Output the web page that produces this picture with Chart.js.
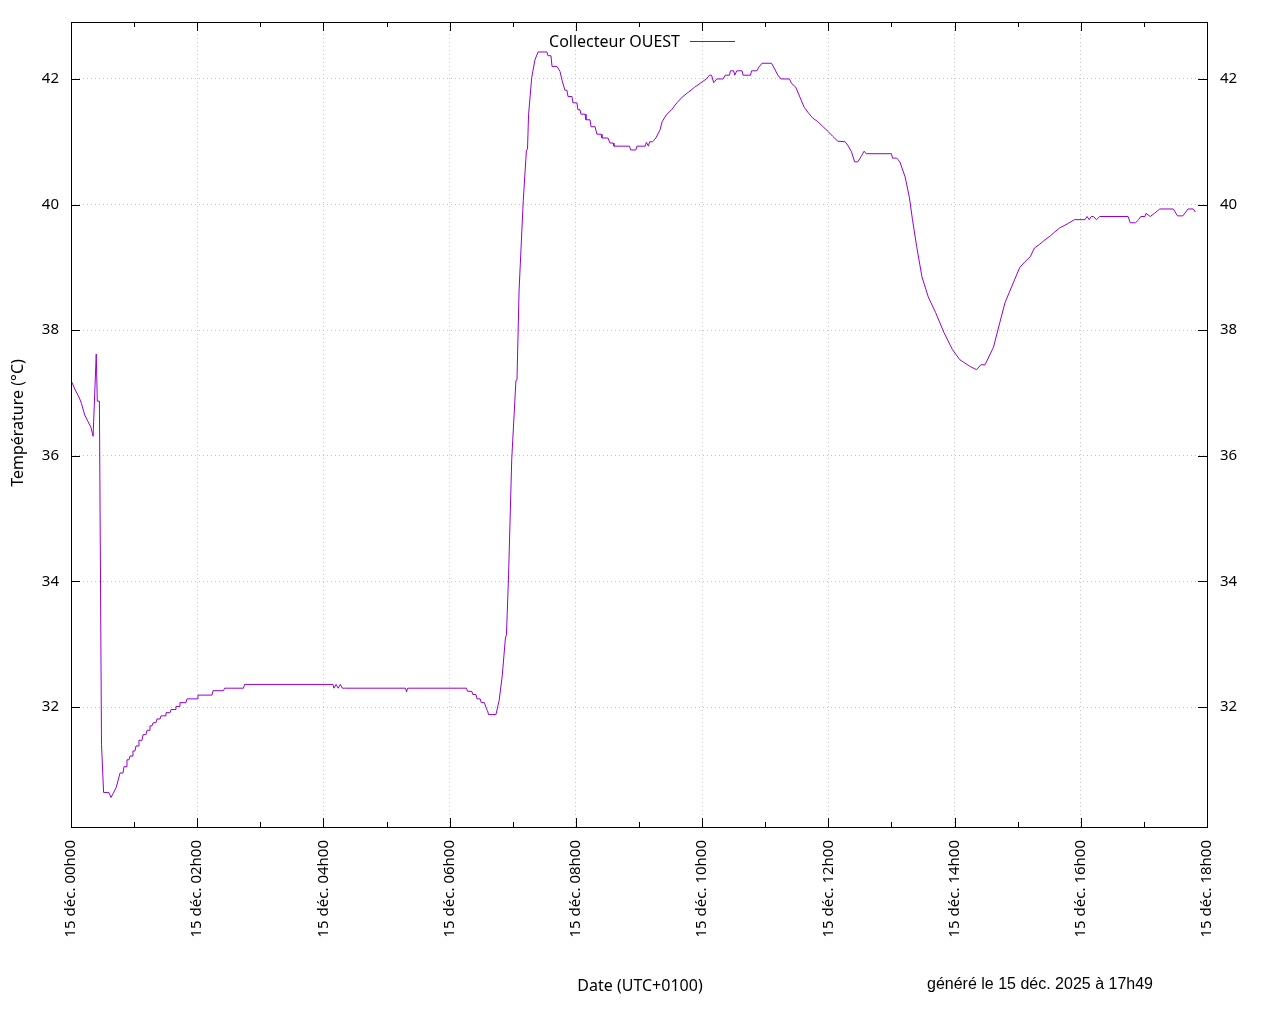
<!DOCTYPE html>
<html>
<head>
<meta charset="utf-8">
<script src="https://cdn.jsdelivr.net/npm/chart.js@4"></script>
<style>
  html, body { margin: 0; padding: 0; background: #fff; }
  #chart { display: block; }
</style>
</head>
<body>
<canvas id="chart" width="1280" height="1024"></canvas>
<script>
// minutes since 00h00 on 15 déc.
const minutes = [
  0, 4, 8, 10, 13, 16, 19, 21, 24, 25, 27, 29, 31, 36, 38, 40, 43,
  46.6, 49.4, 50.4, 52.3, 53.2, 55.1, 56.1, 58, 58.9, 60.8, 61.8, 63.7, 64.6, 67.5, 68.5, 71.3, 72.3, 74.2,
  75.1, 77, 78, 80.8, 81.8, 84.6, 85.6, 89.4, 90.3, 94.1, 95.1, 98.9, 99.8, 102.7, 103.6, 109.3, 110.3, 119.8, 120.7,
  134, 135, 145, 146, 164, 165, 249, 250,
  252, 254, 256, 258, 260, 318, 319, 320, 376, 377, 381, 382, 385, 386, 389, 390, 393, 395, 396, 397,
  404, 407, 410, 413, 414, 416, 419, 423, 424, 426, 430, 433, 434, 435, 438, 441, 444,
  452.5, 453.5, 456.3, 457.3, 462, 464.9, 466.8, 469.6, 471.5, 472.5, 476.3, 477.2, 481, 481.9, 483.9, 484.8,
  488.7, 489.6, 493.4, 494.4, 498.2, 500, 503.9, 504.8, 510.5, 512.4, 515.3, 516.2,
  531, 532, 537, 538, 546, 547, 549,
  550, 553, 556, 560, 562, 566, 571, 576, 581, 587, 593, 598, 604, 607, 609, 611, 614, 620, 622, 626,
  627, 630, 631, 633, 638, 639, 646, 647, 652, 654, 657, 666, 668, 672, 675, 683, 685, 689, 693, 697,
  701, 705, 710, 715, 720, 724, 729, 736, 739, 742, 745, 748, 751, 754, 756, 780, 781, 785, 788, 793,
  797, 800, 804, 809, 815, 822, 830, 838, 845, 855, 861, 865, 869, 877, 883, 888, 893, 897, 902, 907,
  912, 916, 921, 926, 931, 935, 940, 947, 954, 964, 966, 968, 970, 972, 975, 978, 1005, 1007, 1012, 1015,
  1017, 1021, 1022, 1026, 1030, 1033, 1035, 1048, 1052, 1057, 1062, 1067, 1069
];
const temps = [
  37.20, 37.05, 36.92, 36.83, 36.65, 36.55, 36.45, 36.31, 37.62, 36.87, 36.87, 31.40, 30.64, 30.64, 30.56, 30.62, 30.72,
  30.95, 30.95, 31.05, 31.05, 31.16, 31.16, 31.22, 31.22, 31.30, 31.30, 31.38, 31.38, 31.47, 31.47, 31.56, 31.56, 31.63, 31.63,
  31.70, 31.70, 31.75, 31.75, 31.81, 31.81, 31.86, 31.86, 31.91, 31.91, 31.96, 31.96, 32.01, 32.01, 32.07, 32.07, 32.13, 32.13, 32.19,
  32.19, 32.26, 32.26, 32.30, 32.30, 32.36, 32.36, 32.30,
  32.36, 32.30, 32.36, 32.30, 32.30, 32.30, 32.24, 32.30, 32.30, 32.25, 32.25, 32.20, 32.20, 32.13, 32.13, 32.07, 32.07, 31.97, 31.94, 31.88,
  31.88, 32.10, 32.50, 33.10, 33.15, 34.10, 35.94, 37.20, 37.21, 38.64, 40.07, 40.87, 40.88, 41.43, 42.02, 42.30, 42.43,
  42.43, 42.37, 42.37, 42.20, 42.20, 42.12, 41.98, 41.82, 41.82, 41.72, 41.72, 41.62, 41.62, 41.51, 41.51, 41.44,
  41.44, 41.35, 41.35, 41.24, 41.24, 41.12, 41.12, 41.06, 41.06, 40.98, 40.98, 40.93,
  40.93, 40.87, 40.87, 40.93, 40.93, 40.99, 40.93,
  41.00, 41.00, 41.06, 41.19, 41.32, 41.43, 41.51, 41.62, 41.71, 41.79, 41.87, 41.93, 42.00, 42.06, 42.06, 41.94, 42.00, 42.00, 42.06, 42.06,
  42.13, 42.13, 42.06, 42.13, 42.13, 42.06, 42.06, 42.13, 42.13, 42.19, 42.25, 42.25, 42.19, 42.06, 42.00, 42.00, 41.93, 41.87, 41.71, 41.55,
  41.46, 41.38, 41.32, 41.24, 41.16, 41.09, 41.01, 41.00, 40.93, 40.84, 40.68, 40.68, 40.76, 40.85, 40.81, 40.81, 40.74, 40.74, 40.68, 40.44,
  40.12, 39.76, 39.33, 38.85, 38.53, 38.28, 37.96, 37.69, 37.53, 37.42, 37.37, 37.45, 37.45, 37.73, 38.12, 38.44, 38.64, 38.80, 39.00, 39.09,
  39.17, 39.31, 39.37, 39.44, 39.50, 39.56, 39.63, 39.69, 39.76, 39.76, 39.81, 39.76, 39.81, 39.81, 39.76, 39.81, 39.81, 39.71, 39.71, 39.76,
  39.81, 39.81, 39.86, 39.81, 39.86, 39.90, 39.93, 39.93, 39.82, 39.82, 39.93, 39.93, 39.88
];
const hourTicks = [0, 1, 2, 3, 4, 5, 6, 7, 8, 9, 10, 11, 12, 13, 14, 15, 16, 17, 18];
const tempTicks = [32, 34, 36, 38, 40, 42];
const seriesName = 'Collecteur OUEST';
const xTitle = 'Date (UTC+0100)';
const yTitle = 'Température (°C)';
const genText = 'généré le 15 déc. 2025 à 17h49';

const lineColor = '#9400d3';
const gridColor = '#c4c4c4';
const font = '"Noto Sans", "DejaVu Sans", sans-serif';

function hourLabel(h) {
  if (h % 2 !== 0) return '';
  return '15 déc. ' + String(h).padStart(2, '0') + 'h00';
}

const points = minutes.map((m, i) => ({ x: m / 60, y: temps[i] }));

// gnuplot-like frame, inward ticks, legend and titles
const decorPlugin = {
  id: 'decor',
  afterDraw(chart) {
    const ctx = chart.ctx;
    const a = chart.chartArea;
    const xs = chart.scales.x;
    const ys = chart.scales.y;
    ctx.save();
    ctx.strokeStyle = '#000';
    ctx.lineWidth = 1;
    ctx.strokeRect(Math.round(a.left) + 0.5, Math.round(a.top) + 0.5, Math.round(a.right - a.left), Math.round(a.bottom - a.top));
    ctx.beginPath();
    hourTicks.forEach(h => {
      const px = Math.round(xs.getPixelForValue(h)) + 0.5;
      const len = h % 2 === 0 ? 9 : 5;
      ctx.moveTo(px, a.bottom); ctx.lineTo(px, a.bottom - len);
      ctx.moveTo(px, a.top); ctx.lineTo(px, a.top + len);
    });
    tempTicks.forEach(t => {
      const py = Math.round(ys.getPixelForValue(t)) + 0.5;
      ctx.moveTo(a.left, py); ctx.lineTo(a.left + 9, py);
      ctx.moveTo(a.right, py); ctx.lineTo(a.right - 9, py);
    });
    ctx.stroke();

    // legend
    ctx.fillStyle = '#000';
    ctx.font = '16px ' + font;
    ctx.textAlign = 'right';
    ctx.textBaseline = 'middle';
    ctx.fillText(seriesName, 680, 42);
    ctx.strokeStyle = lineColor;
    ctx.beginPath();
    ctx.moveTo(690, 41.5); ctx.lineTo(735, 41.5);
    ctx.stroke();

    // axis titles
    ctx.fillStyle = '#000';
    ctx.textAlign = 'center';
    ctx.fillText(xTitle, 640, 986);
    ctx.save();
    ctx.translate(18, 423);
    ctx.rotate(-Math.PI / 2);
    ctx.fillText(yTitle, 0, 0);
    ctx.restore();
    ctx.font = '16px "Liberation Sans", Arial, sans-serif';
    ctx.fillText(genText, 1040, 985);
    ctx.restore();
  }
};

new Chart(document.getElementById('chart'), {
  type: 'line',
  data: {
    datasets: [{
      label: seriesName,
      data: points,
      borderColor: lineColor,
      borderWidth: 1,
      pointRadius: 0,
      tension: 0,
      fill: false
    }]
  },
  options: {
    responsive: false,
    animation: false,
    layout: { padding: { top: 22, left: 0, right: 0, bottom: 0 } },
    plugins: {
      legend: { display: false },
      tooltip: { enabled: false }
    },
    scales: {
      x: {
        type: 'linear',
        position: 'bottom',
        min: 0,
        max: 18,
        afterBuildTicks: s => { s.ticks = hourTicks.map(v => ({ value: v })); },
        afterFit: s => { s.height = 197; },
        ticks: {
          autoSkip: false,
          minRotation: 90,
          maxRotation: 90,
          padding: 13,
          color: '#000',
          font: { family: font, size: 15 },
          callback: v => hourLabel(v)
        },
        grid: {
          drawTicks: false,
          color: c => (c.tick && c.tick.value % 2 === 0 && c.tick.value > 0 && c.tick.value < 18) ? gridColor : 'rgba(0,0,0,0)',
          lineWidth: 1
        },
        border: { display: false, dash: [1, 3] }
      },
      y: {
        position: 'left',
        min: 30.09,
        max: 42.907,
        afterBuildTicks: s => { s.ticks = tempTicks.map(v => ({ value: v })); },
        afterFit: s => { s.width = 71; },
        ticks: {
          padding: 12,
          color: '#000',
          font: { family: font, size: 15 }
        },
        grid: { drawTicks: false, color: gridColor, lineWidth: 1 },
        border: { display: false, dash: [1, 3] }
      },
      y2: {
        position: 'right',
        min: 30.09,
        max: 42.907,
        afterBuildTicks: s => { s.ticks = tempTicks.map(v => ({ value: v })); },
        afterFit: s => { s.width = 73; },
        ticks: {
          padding: 13,
          color: '#000',
          font: { family: font, size: 15 }
        },
        grid: { display: false, drawTicks: false },
        border: { display: false }
      }
    }
  },
  plugins: [decorPlugin]
});
</script>
</body>
</html>
